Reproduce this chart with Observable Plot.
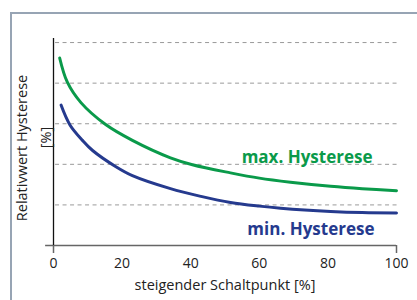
<!DOCTYPE html>
<html>
<head>
<meta charset="utf-8">
<script src="https://cdn.jsdelivr.net/npm/d3@7"></script>
<script src="https://cdn.jsdelivr.net/npm/@observablehq/plot@0.6"></script>
<style>
  html, body { margin: 0; padding: 0; background: #fff; }
  #wrap { position: relative; width: 417px; height: 300px; overflow: hidden; font-family: "Open Sans", sans-serif; }
  #frame { position: absolute; left: 10px; top: 12px; width: 420px; height: 300px;
           border-left: 2px solid #97a4b4; border-top: 2px solid #97a4b4; box-sizing: border-box; }
  #chart { position: absolute; left: 0; top: 0; }
</style>
</head>
<body>
<div id="wrap"><div id="frame"></div><div id="chart"></div></div>
<script>
// Series values (y in arbitrary units, gridline spacing = 1)
const maxX = [1.8, 4.0, 8, 15.2, 23, 34.1, 40.5, 51.6, 60, 69.1, 80.8, 90, 100];
const maxY = [4.62, 4.03, 3.52, 2.98, 2.59, 2.16, 1.99, 1.79, 1.66, 1.56, 1.46, 1.40, 1.35];
const minX = [2.2, 4.8, 8.45, 11.4, 18.2, 23, 34.1, 43, 51.6, 60, 66.2, 80.8, 90, 100];
const minY = [3.46, 2.97, 2.59, 2.34, 1.94, 1.72, 1.40, 1.21, 1.06, 0.97, 0.92, 0.84, 0.81, 0.80];
const seriesNames = ["max. Hysterese", "min. Hysterese"];
const xTicks = [0, 20, 40, 60, 80, 100];
const gridY = [1, 2, 3, 4, 5];
const xLabel = "steigender Schaltpunkt [%]";
const yLabel1 = "Relativwert Hysterese";
const yLabel2 = "[%]";

const green = "#0a9a4a";
const blue = "#253a8e";

const maxData = maxX.map((x, i) => ({x, y: maxY[i]}));
const minData = minX.map((x, i) => ({x, y: minY[i]}));
const labels = [
  {...maxData[maxData.length - 1], name: seriesNames[0]},
  {...minData[minData.length - 1], name: seriesNames[1]}
];

const chart = Plot.plot({
  width: 417,
  height: 300,
  marginLeft: 53,
  marginRight: 21,
  marginTop: 38,
  marginBottom: 55,
  style: {fontFamily: "Open Sans, sans-serif", background: "transparent", overflow: "visible"},
  x: {domain: [0, 100]},
  y: {domain: [0, 5.1], axis: null},
  marks: [
    Plot.ruleY(gridY, {x1: 0.6, x2: 100.3, stroke: "#9a9a9a", strokeWidth: 1, strokeDasharray: "4,3.5"}),
    Plot.ruleY([0], {x1: -2.3, x2: 100, stroke: "#666", strokeWidth: 1.5}),
    Plot.ruleX([0], {y1: 0, y2: 5.1, stroke: "#111", strokeWidth: 1.3}),
    Plot.axisX({ticks: [0, 100], tickSize: 8, tickFormat: () => "", stroke: "#666", strokeWidth: 1.5, label: null}),
    Plot.axisX({ticks: xTicks, tickSize: 0, tickPadding: 13, fontSize: 14, fill: "#222", label: null}),
    Plot.line(maxData, {x: "x", y: "y", stroke: green, strokeWidth: 3, curve: "catmull-rom"}),
    Plot.line(minData, {x: "x", y: "y", stroke: blue, strokeWidth: 3, curve: "catmull-rom"}),
    Plot.text([labels[0]], {x: "x", y: "y", text: "name", textAnchor: "end", lineAnchor: "bottom",
      dx: -24, dy: -28, fill: green, fontWeight: "bold", fontSize: 17}),
    Plot.text([labels[1]], {x: "x", y: "y", text: "name", textAnchor: "end", lineAnchor: "bottom",
      dx: -22, dy: 21.5, fill: blue, fontWeight: "bold", fontSize: 17}),
    Plot.text([xLabel], {frameAnchor: "bottom", text: d => d, dy: 40, lineAnchor: "middle", fontSize: 14.5, fill: "#222"}),
    Plot.text([yLabel1], {frameAnchor: "left", text: d => d, rotate: -90, textAnchor: "middle", dx: -31, dy: 6, lineAnchor: "middle", fontSize: 14.5, fill: "#222"}),
    Plot.text([yLabel2], {frameAnchor: "left", text: d => d, rotate: -90, textAnchor: "middle", dx: -7, dy: -4.5, lineAnchor: "middle", fontSize: 14.5, fill: "#222"})
  ]
});
document.getElementById("chart").appendChild(chart);
</script>
</body>
</html>
